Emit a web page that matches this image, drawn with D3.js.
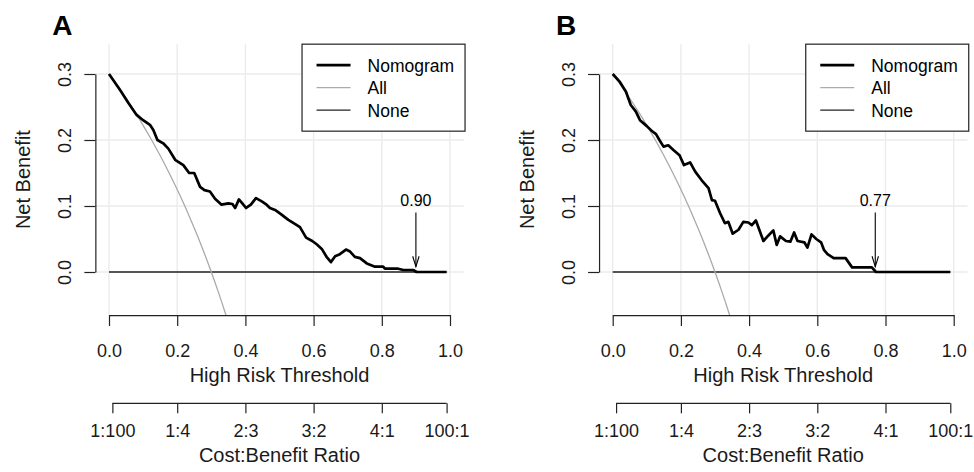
<!DOCTYPE html>
<html><head><meta charset="utf-8">
<script src="https://cdn.jsdelivr.net/npm/d3@7/dist/d3.min.js"></script>
<style>
html,body{margin:0;padding:0;background:#fff;}
svg{display:block;font-family:"Liberation Sans",Arial,sans-serif;}
</style></head>
<body>
<svg id="chart" width="974" height="472"></svg>
<script>
// ---------------- data ----------------
const thresholdsA = [0,0.032,0.057,0.081,0.100,0.120,0.130,0.142,0.159,0.174,0.194,0.218,0.235,0.250,0.267,0.280,0.296,0.311,0.330,0.350,0.362,0.370,0.381,0.391,0.402,0.416,0.431,0.448,0.462,0.472,0.487,0.506,0.526,0.545,0.560,0.578,0.596,0.609,0.624,0.638,0.651,0.663,0.677,0.695,0.707,0.721,0.736,0.756,0.780,0.804,0.809,0.848,0.863,0.892,0.902,0.990];
const nomogramA = [0.300,0.276,0.256,0.238,0.230,0.223,0.215,0.200,0.195,0.187,0.170,0.162,0.150,0.150,0.129,0.124,0.122,0.111,0.102,0.104,0.103,0.097,0.110,0.104,0.097,0.102,0.112,0.107,0.102,0.097,0.094,0.087,0.079,0.073,0.068,0.052,0.047,0.042,0.035,0.023,0.015,0.024,0.027,0.034,0.031,0.023,0.021,0.013,0.008,0.008,0.005,0.005,0.003,0.003,0.000,0.000];

const thresholdsB = [0,0.021,0.039,0.046,0.053,0.068,0.080,0.100,0.114,0.127,0.137,0.149,0.163,0.178,0.196,0.209,0.227,0.242,0.261,0.281,0.291,0.300,0.315,0.329,0.339,0.352,0.369,0.383,0.398,0.408,0.420,0.442,0.456,0.471,0.481,0.491,0.508,0.521,0.532,0.542,0.562,0.571,0.583,0.597,0.611,0.620,0.630,0.648,0.683,0.702,0.760,0.772,0.990];
const nomogramB = [0.300,0.288,0.273,0.263,0.253,0.243,0.230,0.221,0.214,0.209,0.200,0.190,0.192,0.185,0.177,0.162,0.166,0.152,0.139,0.127,0.109,0.108,0.089,0.074,0.076,0.058,0.064,0.076,0.075,0.071,0.078,0.047,0.055,0.063,0.041,0.054,0.047,0.046,0.060,0.047,0.045,0.037,0.057,0.050,0.045,0.033,0.027,0.021,0.021,0.007,0.007,0.000,0.000];

const allThresholds = [0,0.02,0.04,0.06,0.08,0.10,0.12,0.14,0.16,0.18,0.20,0.22,0.24,0.26,0.28,0.30,0.32,0.34,0.36];
const allNB = [0.300,0.2857,0.2708,0.2553,0.2391,0.2222,0.2045,0.1860,0.1667,0.1463,0.125,0.1026,0.0789,0.0541,0.0278,0,-0.0294,-0.0606,-0.0938];

const noneThresholds = [0, 0.99];
const noneNB = [0, 0];

const xTicks = [0, 0.2, 0.4, 0.6, 0.8, 1.0];
const yTicks = [0, 0.1, 0.2, 0.3];
const ratioTicks = [0.0099, 0.2, 0.4, 0.6, 0.8, 0.99];
const ratioLabels = ["1:100", "1:4", "2:3", "3:2", "4:1", "100:1"];
const legendLabels = ["Nomogram", "All", "None"];
const panelLabels = ["A", "B"];
const cutoffs = [0.90, 0.77];
const cutoffLabels = ["0.90", "0.77"];

// ---------------- drawing ----------------
const svg = d3.select("#chart");
const xlim = [-0.04, 1.04];
const ylim = [-0.0652, 0.3452];
const fmt1 = d3.format(".1f");

function panel(idx, x0, nomoT, nomoV) {
  const x = d3.scaleLinear().domain([0, 1]).range([x0, x0 + 341]);
  const y = d3.scaleLinear().domain([0, 0.3]).range([272, 74]);
  const L = x(xlim[0]), R = x(xlim[1]), T = y(ylim[1]), B = y(ylim[0]);
  const g = svg.append("g");
  const clipId = "clip" + idx;
  g.append("clipPath").attr("id", clipId).append("rect")
    .attr("x", L).attr("y", T).attr("width", R - L).attr("height", B - T);

  // grid
  g.selectAll(".vg").data(xTicks).join("line")
    .attr("x1", d => x(d)).attr("x2", d => x(d)).attr("y1", T).attr("y2", B)
    .attr("stroke", "#ebebeb").attr("stroke-width", 1.4);
  g.selectAll(".hg").data(yTicks).join("line")
    .attr("x1", L).attr("x2", R).attr("y1", d => y(d)).attr("y2", d => y(d))
    .attr("stroke", "#ebebeb").attr("stroke-width", 1.4);

  const line = d3.line().x(d => x(d[0])).y(d => y(d[1]));
  const lines = g.append("g").attr("clip-path", `url(#${clipId})`);
  lines.append("path").datum(d3.zip(noneThresholds, noneNB)).attr("d", line)
    .attr("fill", "none").attr("stroke", "#222").attr("stroke-width", 1.3);
  lines.append("path").datum(d3.zip(allThresholds, allNB))
    .attr("d", d3.line().curve(d3.curveMonotoneX).x(d => x(d[0])).y(d => y(d[1])))
    .attr("fill", "none").attr("stroke", "#aaaaaa").attr("stroke-width", 1.3);
  lines.append("path").datum(d3.zip(nomoT, nomoV)).attr("d", line)
    .attr("fill", "none").attr("stroke", "#000").attr("stroke-width", 2.7)
    .attr("stroke-linejoin", "round");

  // x axis
  const ax = g.append("g").attr("transform", `translate(0,${B})`)
    .call(d3.axisBottom(x).tickValues(xTicks).tickFormat(fmt1).tickSizeInner(11).tickSizeOuter(0));
  styleAxis(ax, 18);
  ax.selectAll("text").attr("y", 42).attr("dy", null);

  // ratio axis
  const ry = 403.3;
  const rax = g.append("g").attr("transform", `translate(0,${ry})`)
    .call(d3.axisBottom(x).tickValues(ratioTicks).tickFormat((d, i) => ratioLabels[i]).tickSizeInner(10).tickSizeOuter(0));
  rax.select(".domain").remove();
  rax.append("line").attr("x1", x(ratioTicks[0])).attr("x2", x(ratioTicks[ratioTicks.length - 1]))
    .attr("stroke", "#222").attr("stroke-width", 1.2);
  styleAxis(rax, 18);
  rax.selectAll("text").attr("y", 33.5).attr("dy", null);

  // y axis
  const ay = g.append("g").attr("transform", `translate(${L},0)`)
    .call(d3.axisLeft(y).tickValues(yTicks).tickFormat(fmt1).tickSizeInner(11).tickSizeOuter(0));
  styleAxis(ay, 18);
  ay.selectAll("text").attr("x", null).attr("dy", null).attr("text-anchor", "middle")
    .attr("transform", "translate(-24,0) rotate(-90)");

  // titles
  const cx = (L + R) / 2, cy = (T + B) / 2;
  g.append("text").attr("x", cx).attr("y", 382).attr("text-anchor", "middle")
    .attr("font-size", 20).attr("fill", "#1a1a1a").text("High Risk Threshold");
  g.append("text").attr("x", cx).attr("y", 462).attr("text-anchor", "middle")
    .attr("font-size", 20).attr("fill", "#1a1a1a").text("Cost:Benefit Ratio");
  g.append("text").attr("transform", `translate(${L - 65},${cy}) rotate(-90)`)
    .attr("text-anchor", "middle").attr("font-size", 20).attr("fill", "#1a1a1a").text("Net Benefit");

  // panel label
  g.append("text").attr("x", L - 43).attr("y", 35).attr("font-size", 28).attr("font-weight", "bold")
    .attr("fill", "#000").text(panelLabels[idx]);

  // legend
  const lw = 163, lh = 87, lx = R + 1.4 - lw, ly = T;
  const lg = g.append("g");
  lg.append("rect").attr("x", lx).attr("y", ly).attr("width", lw).attr("height", lh)
    .attr("fill", "#fff").attr("stroke", "#222").attr("stroke-width", 1.2);
  const lstyles = [{c: "#000", w: 2.7}, {c: "#aaaaaa", w: 1.3}, {c: "#222", w: 1.3}];
  legendLabels.forEach((lab, i) => {
    const yy = ly + 21 + i * 22.5;
    lg.append("line").attr("x1", lx + 14.5).attr("x2", lx + 48.5).attr("y1", yy).attr("y2", yy)
      .attr("stroke", lstyles[i].c).attr("stroke-width", lstyles[i].w);
    lg.append("text").attr("x", lx + 65.5).attr("y", yy + 6.5).attr("font-size", 17.5)
      .attr("fill", "#000").text(lab);
  });

  // cutoff arrow
  const cxA = x(cutoffs[idx]);
  const yTop = y(0.09), yTip = y(0.008);
  const ag = g.append("g").attr("stroke", "#000").attr("stroke-width", 1.1).attr("fill", "none");
  ag.append("line").attr("x1", cxA).attr("x2", cxA).attr("y1", yTop).attr("y2", yTip);
  ag.append("path").attr("d", `M${cxA - 3.2},${yTip - 10.5}L${cxA},${yTip}L${cxA + 3.2},${yTip - 10.5}`);
  g.append("text").attr("x", cxA).attr("y", y(0.1)).attr("text-anchor", "middle")
    .attr("font-size", 16).attr("fill", "#000").text(cutoffLabels[idx]);
}

function styleAxis(a, fs) {
  a.select(".domain").attr("stroke", "#222").attr("stroke-width", 1.2);
  a.selectAll(".tick line").attr("stroke", "#222").attr("stroke-width", 1.2);
  a.selectAll("text").attr("font-size", fs).attr("fill", "#1a1a1a")
    .attr("font-family", "Liberation Sans, Arial, sans-serif");
}

panel(0, 109, thresholdsA, nomogramA);
panel(1, 612.7, thresholdsB, nomogramB);
</script>
</body></html>
